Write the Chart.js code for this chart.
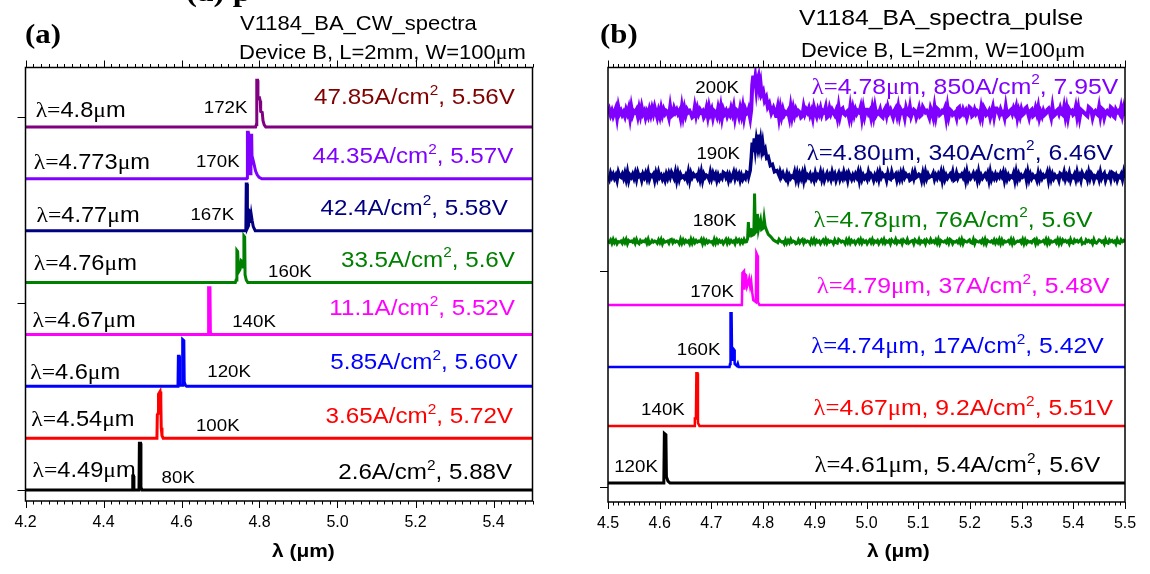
<!DOCTYPE html>
<html>
<head>
<meta charset="utf-8">
<script src="https://cdn.jsdelivr.net/npm/chart.js@4.4.1/dist/chart.umd.min.js"></script>
<style>
  html, body { margin: 0; padding: 0; background: #fff; }
  #wrap { position: relative; width: 1150px; height: 574px; overflow: hidden; }
  .panel { position: absolute; top: 0; width: 575px; height: 574px; }
  #pa { left: 0; }
  #pb { left: 575px; }
</style>
</head>
<body>
<div id="wrap">
  <div class="panel" id="pa"><canvas id="ca" width="575" height="574"></canvas></div>
  <div class="panel" id="pb"><canvas id="cb" width="575" height="574"></canvas></div>
</div>
<script>
// ---------- panel (a): CW spectra ----------
const tempsA = ['172K', '170K', '167K', '160K', '140K', '120K', '100K', '80K'];
const lamA = ['4.8', '4.773', '4.77', '4.76', '4.67', '4.6', '4.54', '4.49'];
const curA = ['47.85', '44.35', '42.4', '33.5', '11.1', '5.85', '3.65', '2.6'];
const voltA = ['5.56', '5.57', '5.58', '5.6', '5.52', '5.60', '5.72', '5.88'];
const offsA = [7, 6, 5, 4, 3, 2, 1, 0];
const ticksA = [4.2, 4.4, 4.6, 4.8, 5.0, 5.2, 5.4];
const yTicksA = [0, 3.6, 7.2];
// [wavelength um, intensity] for the lasing lines of each trace
const peaksA = [
  [[4.790, 0], [4.792, 0.05], [4.793, 0.9], [4.795, 0.9], [4.796, 0.55], [4.800, 0.56], [4.802, 0.5], [4.803, 0.3], [4.807, 0.28], [4.809, 0.12], [4.812, 0.04], [4.816, 0]],
  [[4.767, 0], [4.768, 0.02], [4.769, 0.9], [4.771, 0.9], [4.772, 0.1], [4.776, 0.1], [4.778, 0.84], [4.780, 0.84], [4.781, 0.3], [4.783, 0.38], [4.785, 0.32], [4.787, 0.25], [4.790, 0.15], [4.794, 0.08], [4.799, 0.03], [4.806, 0]],
  [[4.765, 0], [4.766, 0.9], [4.768, 0.9], [4.769, 0.05], [4.772, 0.1], [4.774, 0.38], [4.776, 0.36], [4.777, 0.15], [4.779, 0.3], [4.781, 0.2], [4.784, 0.08], [4.789, 0]],
  [[4.738, 0], [4.740, 0.05], [4.742, 0.62], [4.744, 0.6], [4.746, 0.2], [4.750, 0.25], [4.753, 0.42], [4.756, 0.4], [4.758, 0.3], [4.760, 0.9], [4.762, 0.88], [4.763, 0.15], [4.766, 0.05], [4.770, 0]],
  [[4.668, 0], [4.669, 0.1], [4.670, 0.9], [4.673, 0.9], [4.674, 0.05], [4.676, 0]],
  [[4.591, 0], [4.592, 0.58], [4.594, 0.58], [4.595, 0.02], [4.602, 0.02], [4.603, 0.9], [4.606, 0.88], [4.607, 0.08], [4.610, 0.02], [4.613, 0]],
  [[4.537, 0], [4.538, 0.45], [4.540, 0.48], [4.541, 0.85], [4.545, 0.9], [4.547, 0.7], [4.548, 0.2], [4.550, 0.05], [4.553, 0]],
  [[4.474, 0], [4.475, 0.27], [4.477, 0.27], [4.478, 0], [4.491, 0], [4.492, 0.9], [4.495, 0.9], [4.496, 0.05], [4.499, 0]]
];

// ---------- panel (b): pulsed spectra ----------
const tempsB = ['200K', '190K', '180K', '170K', '160K', '140K', '120K'];
const lamB = ['4.78', '4.80', '4.78', '4.79', '4.74', '4.67', '4.61'];
const curB = ['850', '340', '76', '37', '17', '9.2', '5.4'];
const voltB = ['7.95', '6.46', '5.6', '5.48', '5.42', '5.51', '5.6'];
const offsB = [5.97, 4.94, 3.89, 2.87, 1.87, 0.92, 0];
const ticksB = [4.5, 4.6, 4.7, 4.8, 4.9, 5.0, 5.1, 5.2, 5.3, 5.4, 5.5];
const yTicksB = [-0.07, 3.42];
const peaksB = [
  [[4.772, 0.05], [4.775, -0.08], [4.777, 0.05], [4.779, 0.45], [4.781, 0.6], [4.783, 0.4], [4.785, 0.55], [4.787, 0.38], [4.789, 0.52], [4.791, 0.58], [4.793, 0.4], [4.795, 0.48], [4.797, 0.3], [4.800, 0.35], [4.803, 0.2], [4.806, 0.25], [4.809, 0.1], [4.812, 0.15], [4.816, 0], [4.820, 0.08], [4.825, -0.05]],
  [[4.772, 0], [4.775, 0.1], [4.777, 0.3], [4.779, 0.55], [4.781, 0.4], [4.783, 0.62], [4.785, 0.45], [4.787, 0.6], [4.789, 0.5], [4.791, 0.68], [4.793, 0.5], [4.795, 0.6], [4.797, 0.45], [4.799, 0.55], [4.801, 0.4], [4.804, 0.45], [4.807, 0.3], [4.810, 0.32], [4.814, 0.18], [4.818, 0.2], [4.822, 0.08], [4.827, 0.1], [4.832, 0]],
  [[4.768, 0], [4.770, 0.05], [4.7715, 0.32], [4.773, 0.1], [4.775, 0.12], [4.776, 0.22], [4.778, 0.1], [4.782, 0.12], [4.7835, 0.78], [4.785, 0.15], [4.788, 0.18], [4.789, 0.45], [4.791, 0.2], [4.793, 0.28], [4.795, 0.35], [4.797, 0.2], [4.800, 0.22], [4.802, 0.38], [4.804, 0.25], [4.807, 0.18], [4.810, 0.12], [4.815, 0.08], [4.820, 0.03], [4.826, 0]],
  [[4.759, 0], [4.760, 0.52], [4.763, 0.55], [4.764, 0.25], [4.765, 0.5], [4.767, 0.48], [4.769, 0.3], [4.771, 0.35], [4.773, 0.42], [4.775, 0.3], [4.777, 0.38], [4.779, 0.2], [4.781, 0.08], [4.786, 0.05], [4.787, 0.84], [4.789, 0.8], [4.790, 0.05], [4.793, 0]],
  [[4.735, 0], [4.736, 0.05], [4.737, 0.87], [4.739, 0.87], [4.740, 0.1], [4.742, 0.3], [4.744, 0.28], [4.745, 0.05], [4.749, 0.02], [4.751, 0.06], [4.753, 0]],
  [[4.667, 0], [4.668, 0.12], [4.670, 0.12], [4.671, 0.85], [4.673, 0.85], [4.674, 0.05], [4.677, 0]],
  [[4.607, 0], [4.608, 0.05], [4.609, 0.8], [4.612, 0.78], [4.613, 0.1], [4.616, 0.03], [4.620, 0]]
];
// detector noise of the weak high-temperature traces, one digit per sample (0..9, 4.5 = baseline)
const noise200 =
  '47362581946352748193657283946152738495162837465192' +
  '38574619283756412938475613829471652839174625384917' +
  '62839174562839417526394817253649182735461928374651' +
  '29475836195274836591284753619278435619283746591827' +
  '74618293547216839574168392756184392576148239756418' +
  '51928734658192763451892374615982374651829734615928' +
  '86374519236748591627348951672384915263478519236748' +
  '43928175634928176543298715643928715643982175649382';
const noise190 =
  '52847361954738291647382956174839265718394625173849' +
  '63918274536291847563829174652938471625398471625938' +
  '47162539847261935847261539482716395842716354928173' +
  '81936472518364927158362947158263947185263749182635' +
  '29475163829475618329457162839475612839457618293745' +
  '58263749182635749128365748192635847192635748192637' +
  '36485917263548192736458192736451827364591827364518' +
  '74926381547293618547293861547293681547298361547293';
const noise180 =
  '64829371546283917564829317465829137465283917456289' +
  '37465192837461928374659182736451928374615928374619' +
  '58273946158273649518273946518273964518273946512837' +
  '92746518392746158392746518329746518392746158392746' +
  '15839264715839264718539264718539246718539264718539' +
  '46382917546382971546382917546832917546382917546382' +
  '73918264573918246573918264537918264573918264573918' +
  '28574619328574691328574619325874619328574619328574';
const noiseB = [noise200, noise190, noise180, null, null, null, null];
const noiseAmpB = [0.02, 0.016, 0.009, 0, 0, 0, 0];

// ---------- styles / layout ----------
const SANS = '"Liberation Sans", Arial, sans-serif';
const SERIF = '"Liberation Serif", "Times New Roman", serif';
const STRETCH = 1.1;
const colA = ['#800080', '#8000ff', '#000080', '#008000', '#ff00ff', '#0000ff', '#ff0000', '#000000'];
const curColA = ['#800000', '#8000ff', '#000080', '#008000', '#ff00ff', '#0000ff', '#ff0000', '#000000'];
const colB = ['#8000ff', '#000080', '#008000', '#ff00ff', '#0000ff', '#ff0000', '#000000'];
const widthB = [4, 3.5, 3, 2.5, 2.5, 2.5, 3];

// label anchors: x in um, dy in px above the trace baseline
const lamXA = [4.226, 4.221, 4.228, 4.221, 4.218, 4.212, 4.215, 4.218];
const lamDyA = [10, 10, 9, 13, 7, 7, 12, 13];
const tempXA = [4.657, 4.637, 4.623, 4.822, 4.730, 4.666, 4.637, 4.549];
const tempDyA = [14, 12, 11, 6, 7, 9, 7, 7];
const curXA = [5.455, 5.451, 5.437, 5.455, 5.455, 5.462, 5.450, 5.448];
const curDyA = [23, 16, 16, 16, 19, 17, 15, 11];
const tempXB = [4.669, 4.671, 4.664, 4.659, 4.633, 4.564, 4.512];
const tempDyB = [20, 18, 16, 8, 12, 11, 11];
const annXB = [5.487, 5.477, 5.437, 5.470, 5.459, 5.477, 5.452];
const annDyB = [19, 17, 15, 12, 14, 11, 11];

function pieces(text, greek) {
  const out = [];
  for (let i = 0; i < text.length; i++) {
    let ch = text[i], serif = false, sup = false;
    if (greek && (ch === 'λ' || ch === 'μ' || (ch === '=' && text[i - 1] === 'λ'))) serif = true;
    if (ch === '²') { ch = '2'; sup = true; }
    const last = out[out.length - 1];
    if (last && last.serif === serif && last.sup === sup) last.t += ch;
    else out.push({ t: ch, serif, sup });
  }
  return out;
}

function drawRich(ctx, text, x, y, o) {
  const size = o.size, family = o.family || SANS;
  const greek = o.greek !== false;
  const fontOf = p => (o.bold ? 'bold ' : '') + (p.sup ? Math.round(size * 0.62) : size) + 'px ' + (p.serif ? SERIF : family);
  const ps = pieces(text, greek);
  ctx.save();
  ctx.fillStyle = o.color || '#000';
  ctx.textBaseline = 'alphabetic';
  ctx.textAlign = 'left';
  let w = 0;
  ps.forEach(p => { ctx.font = fontOf(p); p.w = ctx.measureText(p.t).width; w += p.w; });
  ctx.translate(x, y);
  ctx.scale(STRETCH, 1);
  let cx = o.align === 'right' ? -w : o.align === 'center' ? -w / 2 : 0;
  ps.forEach(p => {
    ctx.font = fontOf(p);
    ctx.fillText(p.t, cx, p.sup ? -size * 0.42 : 0);
    cx += p.w;
  });
  ctx.restore();
}

function buildTrace(peaks, offset, noise, amp, xmin, xmax) {
  const pts = [];
  const lo = peaks[0][0], hi = peaks[peaks.length - 1][0];
  if (noise) {
    const n = noise.length - 1;
    for (let i = 0; i <= n; i++) {
      const x = xmin + (xmax - xmin) * i / n;
      if (x >= lo && x <= hi) continue;
      pts.push({ x, y: offset + (noise.charCodeAt(i) - 52.5) * amp });
    }
  } else {
    pts.push({ x: xmin, y: offset }, { x: xmax, y: offset });
  }
  peaks.forEach(p => pts.push({ x: p[0], y: offset + p[1] }));
  return pts.sort((a, b) => a.x - b.x);
}

// box, ticks on all sides, annotations
function panelPlugin(cfg) {
  return {
    id: 'panel' + cfg.id,
    afterDraw(chart) {
      const ctx = chart.ctx, a = chart.chartArea;
      const xs = chart.scales.x, ys = chart.scales.y;
      ctx.save();
      ctx.strokeStyle = '#000';
      ctx.lineWidth = 1.5;
      ctx.strokeRect(a.left, a.top, a.right - a.left, a.bottom - a.top);
      ctx.lineWidth = 1;
      ctx.beginPath();
      const n = Math.round((xs.max - xs.min) / cfg.minor);
      for (let i = 0; i <= n; i++) {
        const v = xs.min + i * cfg.minor;
        const k = (v - xs.min) / cfg.major;
        const len = Math.abs(k - Math.round(k)) < 1e-6 ? 7 : 3.5;
        const px = Math.round(xs.getPixelForValue(v)) + 0.5;
        ctx.moveTo(px, a.bottom); ctx.lineTo(px, a.bottom + len);
        ctx.moveTo(px, a.top); ctx.lineTo(px, a.top - len);
      }
      cfg.yTicks.forEach(v => {
        const py = Math.round(ys.getPixelForValue(v)) + 0.5;
        ctx.moveTo(a.left, py); ctx.lineTo(a.left - 8, py);
      });
      ctx.stroke();
      ctx.restore();
      cfg.texts(ctx, xs, ys);
    }
  };
}

function makeChart(canvas, datasets, xmin, xmax, ymin, ymax, ticks, pad, xHeight, plugin) {
  return new Chart(canvas, {
    type: 'line',
    data: { datasets },
    options: {
      responsive: false,
      animation: false,
      events: [],
      layout: { padding: pad },
      plugins: { legend: { display: false }, tooltip: { enabled: false } },
      scales: {
        x: {
          type: 'linear', min: xmin, max: xmax,
          grid: { display: false, drawTicks: false },
          border: { display: false },
          afterBuildTicks: s => { s.ticks = ticks.map(v => ({ value: v })); },
          afterFit: s => { s.height = xHeight; },
          ticks: {
            padding: 12, color: '#000', maxRotation: 0, autoSkip: false,
            font: { family: SANS, size: 16 },
            callback: v => v.toFixed(1)
          }
        },
        y: { display: false, min: ymin, max: ymax }
      }
    },
    plugins: [plugin]
  });
}

const dsA = tempsA.map((t, i) => ({
  label: t,
  data: buildTrace(peaksA[i], offsA[i], null, 0, 4.2, 5.5),
  borderColor: colA[i], borderWidth: 3, pointRadius: 0, tension: 0, fill: false
}));

const dsB = tempsB.map((t, i) => ({
  label: t,
  data: buildTrace(peaksB[i], offsB[i], noiseB[i], noiseAmpB[i], 4.5, 5.5),
  borderColor: colB[i], borderWidth: widthB[i], pointRadius: 0, tension: 0, fill: false
}));

makeChart(document.getElementById('ca'), dsA, 4.2, 5.5, -0.212, 8.147, ticksA,
  { left: 25.5, right: 42.5, top: 67.5, bottom: 0 }, 73,
  panelPlugin({
    id: 'a', major: 0.2, minor: 0.02, yTicks: yTicksA,
    texts(ctx, xs, ys) {
      drawRich(ctx, '(a) p', 186, 1, { size: 30, bold: true, family: SERIF });
      drawRich(ctx, '(a)', 25, 43, { size: 28, bold: true, family: SERIF });
      drawRich(ctx, 'V1184_BA_CW_spectra', 240, 30, { size: 20 });
      drawRich(ctx, 'Device B, L=2mm, W=100μm', 239, 59, { size: 20 });
      drawRich(ctx, 'λ (μm)', 272, 557, { size: 19, bold: true, greek: false });
      tempsA.forEach((t, i) => {
        const base = ys.getPixelForValue(offsA[i]);
        drawRich(ctx, 'λ=' + lamA[i] + 'μm', xs.getPixelForValue(lamXA[i]), base - lamDyA[i], { size: 21.5 });
        drawRich(ctx, t, xs.getPixelForValue(tempXA[i]), base - tempDyA[i], { size: 17 });
        drawRich(ctx, curA[i] + 'A/cm², ' + voltA[i] + 'V', xs.getPixelForValue(curXA[i]), base - curDyA[i],
          { size: 22, color: curColA[i], align: 'right' });
      });
    }
  }));

makeChart(document.getElementById('cb'), dsB, 4.5, 5.5, -0.306, 6.702, ticksB,
  { left: 33, right: 25, top: 67.5, bottom: 0 }, 72,
  panelPlugin({
    id: 'b', major: 0.1, minor: 0.01, yTicks: yTicksB,
    texts(ctx, xs, ys) {
      drawRich(ctx, '(b)', 25, 43, { size: 28, bold: true, family: SERIF });
      drawRich(ctx, 'V1184_BA_spectra_pulse', 224, 25, { size: 22.5 });
      drawRich(ctx, 'Device B, L=2mm, W=100μm', 226, 57, { size: 19.8 });
      drawRich(ctx, 'λ (μm)', 292, 557, { size: 19, bold: true, greek: false });
      tempsB.forEach((t, i) => {
        const base = ys.getPixelForValue(offsB[i]);
        drawRich(ctx, t, xs.getPixelForValue(tempXB[i]), base - tempDyB[i], { size: 17 });
        drawRich(ctx, 'λ=' + lamB[i] + 'μm, ' + curB[i] + 'A/cm², ' + voltB[i] + 'V',
          xs.getPixelForValue(annXB[i]), base - annDyB[i], { size: 22.5, color: colB[i], align: 'right' });
      });
    }
  }));
</script>
</body>
</html>
